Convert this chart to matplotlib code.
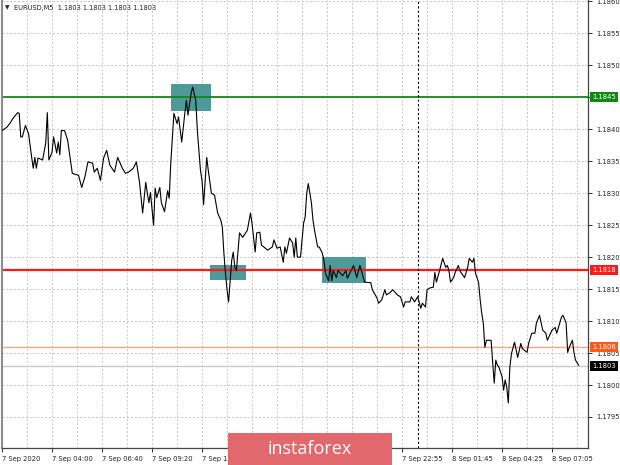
import matplotlib
matplotlib.use("Agg")
import matplotlib.pyplot as plt
from matplotlib.patches import Rectangle
from matplotlib.transforms import blended_transform_factory

# ---------------- data ----------------
bars = [0, 3, 5, 7, 10, 11, 12, 13, 15, 17, 19, 20, 21, 22, 23, 26, 28, 29, 30, 32,
        33, 35, 36, 37, 38, 40, 42, 45, 49, 51, 53, 55, 58, 59, 61, 63, 65, 67, 69, 72,
        74, 77, 79, 81, 84, 86, 88, 90, 92, 93, 94, 95, 97, 98, 99, 101, 102, 104, 106, 107,
        108, 109, 110, 112, 113, 115, 117, 118, 119, 121, 122, 124, 125, 127, 128, 129, 131, 132, 134, 136,
        138, 140, 141, 142, 143, 144, 145, 146, 147, 148, 149, 150, 152, 154, 157, 159, 160, 161, 162, 163,
        165, 166, 170, 173, 174, 176, 178, 180, 181, 182, 184, 186, 187, 188, 189, 191, 193, 194, 195, 196,
        198, 199, 200, 202, 203, 205, 206, 207, 209, 210, 211, 212, 214, 215, 218, 220, 221, 224, 225, 227,
        229, 230, 232, 236, 237, 240, 241, 243, 245, 246, 248, 250, 253, 255, 257, 258, 261, 262, 264, 266,
        268, 269, 271, 272, 274, 276, 277, 278, 280, 282, 284, 285, 286, 287, 289, 290, 292, 293, 294, 296,
        298, 299, 301, 302, 303, 305, 306, 307, 308, 309, 310, 313, 314, 315, 316, 317, 318, 320, 321, 322,
        323, 324, 325, 326, 328, 330, 332, 333, 336, 337, 339, 341, 342, 344, 346, 348, 349, 352, 354, 355,
        357, 358, 359, 361, 362, 363, 365, 366, 367, 369]
close = [1.18398, 1.18403, 1.18409, 1.18417, 1.18426, 1.18425, 1.18388, 1.18388, 1.18406, 1.18393,
         1.18356, 1.18339, 1.18356, 1.18339, 1.18355, 1.18352, 1.18379, 1.18426, 1.18352, 1.18364,
         1.18388, 1.18363, 1.18380, 1.18360, 1.18398, 1.18398, 1.18383, 1.18331, 1.18328, 1.18309,
         1.18325, 1.18349, 1.18347, 1.18333, 1.18339, 1.18320, 1.18355, 1.18367, 1.18344, 1.18333,
         1.18356, 1.18339, 1.18331, 1.18333, 1.18339, 1.18349, 1.18317, 1.18269, 1.18317, 1.18300,
         1.18285, 1.18301, 1.18250, 1.18308, 1.18293, 1.18309, 1.18285, 1.18271, 1.18304, 1.18292,
         1.18347, 1.18386, 1.18425, 1.18409, 1.18419, 1.18380, 1.18425, 1.18445, 1.18422, 1.18456,
         1.18466, 1.18445, 1.18398, 1.18336, 1.18320, 1.18282, 1.18356, 1.18336, 1.18300, 1.18297,
         1.18269, 1.18258, 1.18247, 1.18206, 1.18175, 1.18149, 1.18130, 1.18163, 1.18195, 1.18208,
         1.18184, 1.18179, 1.18238, 1.18231, 1.18242, 1.18269, 1.18253, 1.18231, 1.18208, 1.18238,
         1.18239, 1.18219, 1.18211, 1.18216, 1.18227, 1.18214, 1.18216, 1.18192, 1.18216, 1.18206,
         1.18230, 1.18222, 1.18200, 1.18230, 1.18200, 1.18200, 1.18253, 1.18263, 1.18300, 1.18315,
         1.18285, 1.18258, 1.18242, 1.18216, 1.18216, 1.18206, 1.18195, 1.18175, 1.18163, 1.18187,
         1.18163, 1.18179, 1.18168, 1.18179, 1.18171, 1.18179, 1.18167, 1.18182, 1.18187, 1.18168,
         1.18187, 1.18179, 1.18161, 1.18160, 1.18149, 1.18136, 1.18128, 1.18133, 1.18149, 1.18141,
         1.18144, 1.18149, 1.18141, 1.18138, 1.18122, 1.18130, 1.18130, 1.18138, 1.18130, 1.18138,
         1.18120, 1.18128, 1.18122, 1.18149, 1.18152, 1.18153, 1.18176, 1.18161, 1.18179, 1.18198,
         1.18184, 1.18187, 1.18179, 1.18161, 1.18168, 1.18176, 1.18187, 1.18179, 1.18175, 1.18168,
         1.18184, 1.18198, 1.18192, 1.18198, 1.18175, 1.18160, 1.18133, 1.18112, 1.18097, 1.18059,
         1.18070, 1.18070, 1.18035, 1.18003, 1.18039, 1.18031, 1.18028, 1.18013, 1.17992, 1.18008,
         1.17997, 1.17972, 1.18028, 1.18049, 1.18067, 1.18043, 1.18065, 1.18057, 1.18051, 1.18065,
         1.18081, 1.18081, 1.18097, 1.18109, 1.18086, 1.18081, 1.18070, 1.18086, 1.18090, 1.18081,
         1.18098, 1.18106, 1.18109, 1.18097, 1.18051, 1.18059, 1.18070, 1.18051, 1.18039, 1.18031]

# labels hidden under the banner in the reference are left out
time_tick_bars = [0, 32, 64, 96, 128, 256, 288, 320, 352]
time_tick_labels = ["7 Sep 2020", "7 Sep 04:00", "7 Sep 06:40", "7 Sep 09:20", "7 Sep 12:00",
                    "7 Sep 22:55", "8 Sep 01:45", "8 Sep 04:25", "8 Sep 07:05"]
hidden_tick_bars = [160, 192, 224]
price_ticks = [1.1795, 1.1800, 1.1805, 1.1810, 1.1815, 1.1820, 1.1825, 1.1830,
               1.1835, 1.1840, 1.1845, 1.1850, 1.1855, 1.1860]
level_prices = [1.1845, 1.1818, 1.1806]
level_labels = ["1.1845", "1.1818", "1.1806"]
current_price = 1.1803
day_separator_bar = 266
zone_start = [108, 133, 205]
zone_end = [134, 156, 233]
zone_low = [1.18429, 1.18164, 1.18160]
zone_high = [1.18471, 1.18187, 1.18200]
header = "EURUSD,M5  1.1803 1.1803 1.1803 1.1803"

# ---------------- figure ----------------
W, H = 620, 465
FS = 4.9
fig = plt.figure(figsize=(W / 100, H / 100), dpi=100)
fig.patch.set_facecolor("white")
ax = fig.add_axes([2 / W, 17 / H, 586 / W, 448 / H])
ax.set_xlim(0, 375)
ax.set_ylim(1.179015, 1.186022)
ax.set_facecolor("white")

# grid
grid_kw = dict(color="#c4c4c4", lw=0.7, linestyle=(0, (2, 2)), zorder=0)
for b in range(16, 375, 16):
    ax.axvline(b, **grid_kw)
for p in price_ticks:
    ax.axhline(p, **grid_kw)

# zones
for s, e, lo, hi in zip(zone_start, zone_end, zone_low, zone_high):
    ax.add_patch(Rectangle((s, lo), e - s, hi - lo, facecolor="#4e9a9a",
                           edgecolor="none", zorder=1))

# level lines
ax.axhline(current_price, color="#c8c8c8", lw=1.0, zorder=1.5)
ax.axhline(level_prices[2], color="#ffa585", lw=1.0, zorder=2)
ax.axhline(level_prices[1], color="#ff1a1a", lw=1.6, zorder=2)
ax.axhline(level_prices[0], color="#108a10", lw=1.3, zorder=2)

# day separator
ax.axvline(day_separator_bar, color="black", lw=0.8, linestyle=(0, (2, 2)), zorder=2)

# price line
ax.plot(bars, close, color="black", lw=0.8, zorder=3)

# spines
ax.spines["top"].set_visible(False)
ax.spines["left"].set_color("#8c8c8c")
ax.spines["left"].set_linewidth(1.5)
ax.spines["right"].set_color("#444444")
ax.spines["bottom"].set_color("#444444")
ax.spines["right"].set_linewidth(0.9)
ax.spines["bottom"].set_linewidth(0.9)

# y axis on the right (the 1.1845 label sits under its price box)
ax.yaxis.tick_right()
ax.set_yticks(price_ticks)
ax.set_yticklabels(["" if abs(p - level_prices[0]) < 1e-9 else f"{p:.4f}" for p in price_ticks],
                   fontsize=FS)
ax.tick_params(axis="y", length=3, width=0.7, pad=3, colors="#333333", labelcolor="#222222")

# x axis labels
ax.set_xticks(time_tick_bars)
ax.set_xticks(hidden_tick_bars, minor=True)
ax.set_xticklabels(time_tick_labels, fontsize=FS, ha="left")
ax.tick_params(axis="x", which="both", length=3, width=0.7, pad=3, colors="#333333",
               labelcolor="#222222")

# right-side price boxes
trans = blended_transform_factory(fig.transFigure, ax.transData)
box_colors = ["#108a10", "#ff1a1a", "#ff5a1a"]
for p, t, c in zip(level_prices, level_labels, box_colors):
    ax.text(592 / W, p, t, transform=trans, fontsize=FS, color="white",
            va="center", ha="left",
            bbox=dict(boxstyle="square,pad=0.3", facecolor=c, edgecolor="none"),
            zorder=10, clip_on=False)
ax.text(592 / W, current_price, f"{current_price:.4f}", transform=trans, fontsize=FS,
        color="white", va="center", ha="left",
        bbox=dict(boxstyle="square,pad=0.3", facecolor="black", edgecolor="none"),
        zorder=10, clip_on=False)

# header
fig.text(5 / W, 1 - 8 / H, "\u25BC", fontsize=4.2, color="#222222", va="center", ha="left")
fig.text(14 / W, 1 - 8 / H, header, fontsize=4.8, color="#222222", va="center", ha="left")

# banner
fig.patches.append(Rectangle((228 / W, 0), 164 / W, 32 / H, transform=fig.transFigure,
                             facecolor="#e1686c", edgecolor="none", zorder=20))
fig.text(310 / W, 16 / H, "instaforex", fontsize=13, color="white", ha="center",
         va="center", family="Open Sans", zorder=21)

fig.savefig("out.png", dpi=100)
